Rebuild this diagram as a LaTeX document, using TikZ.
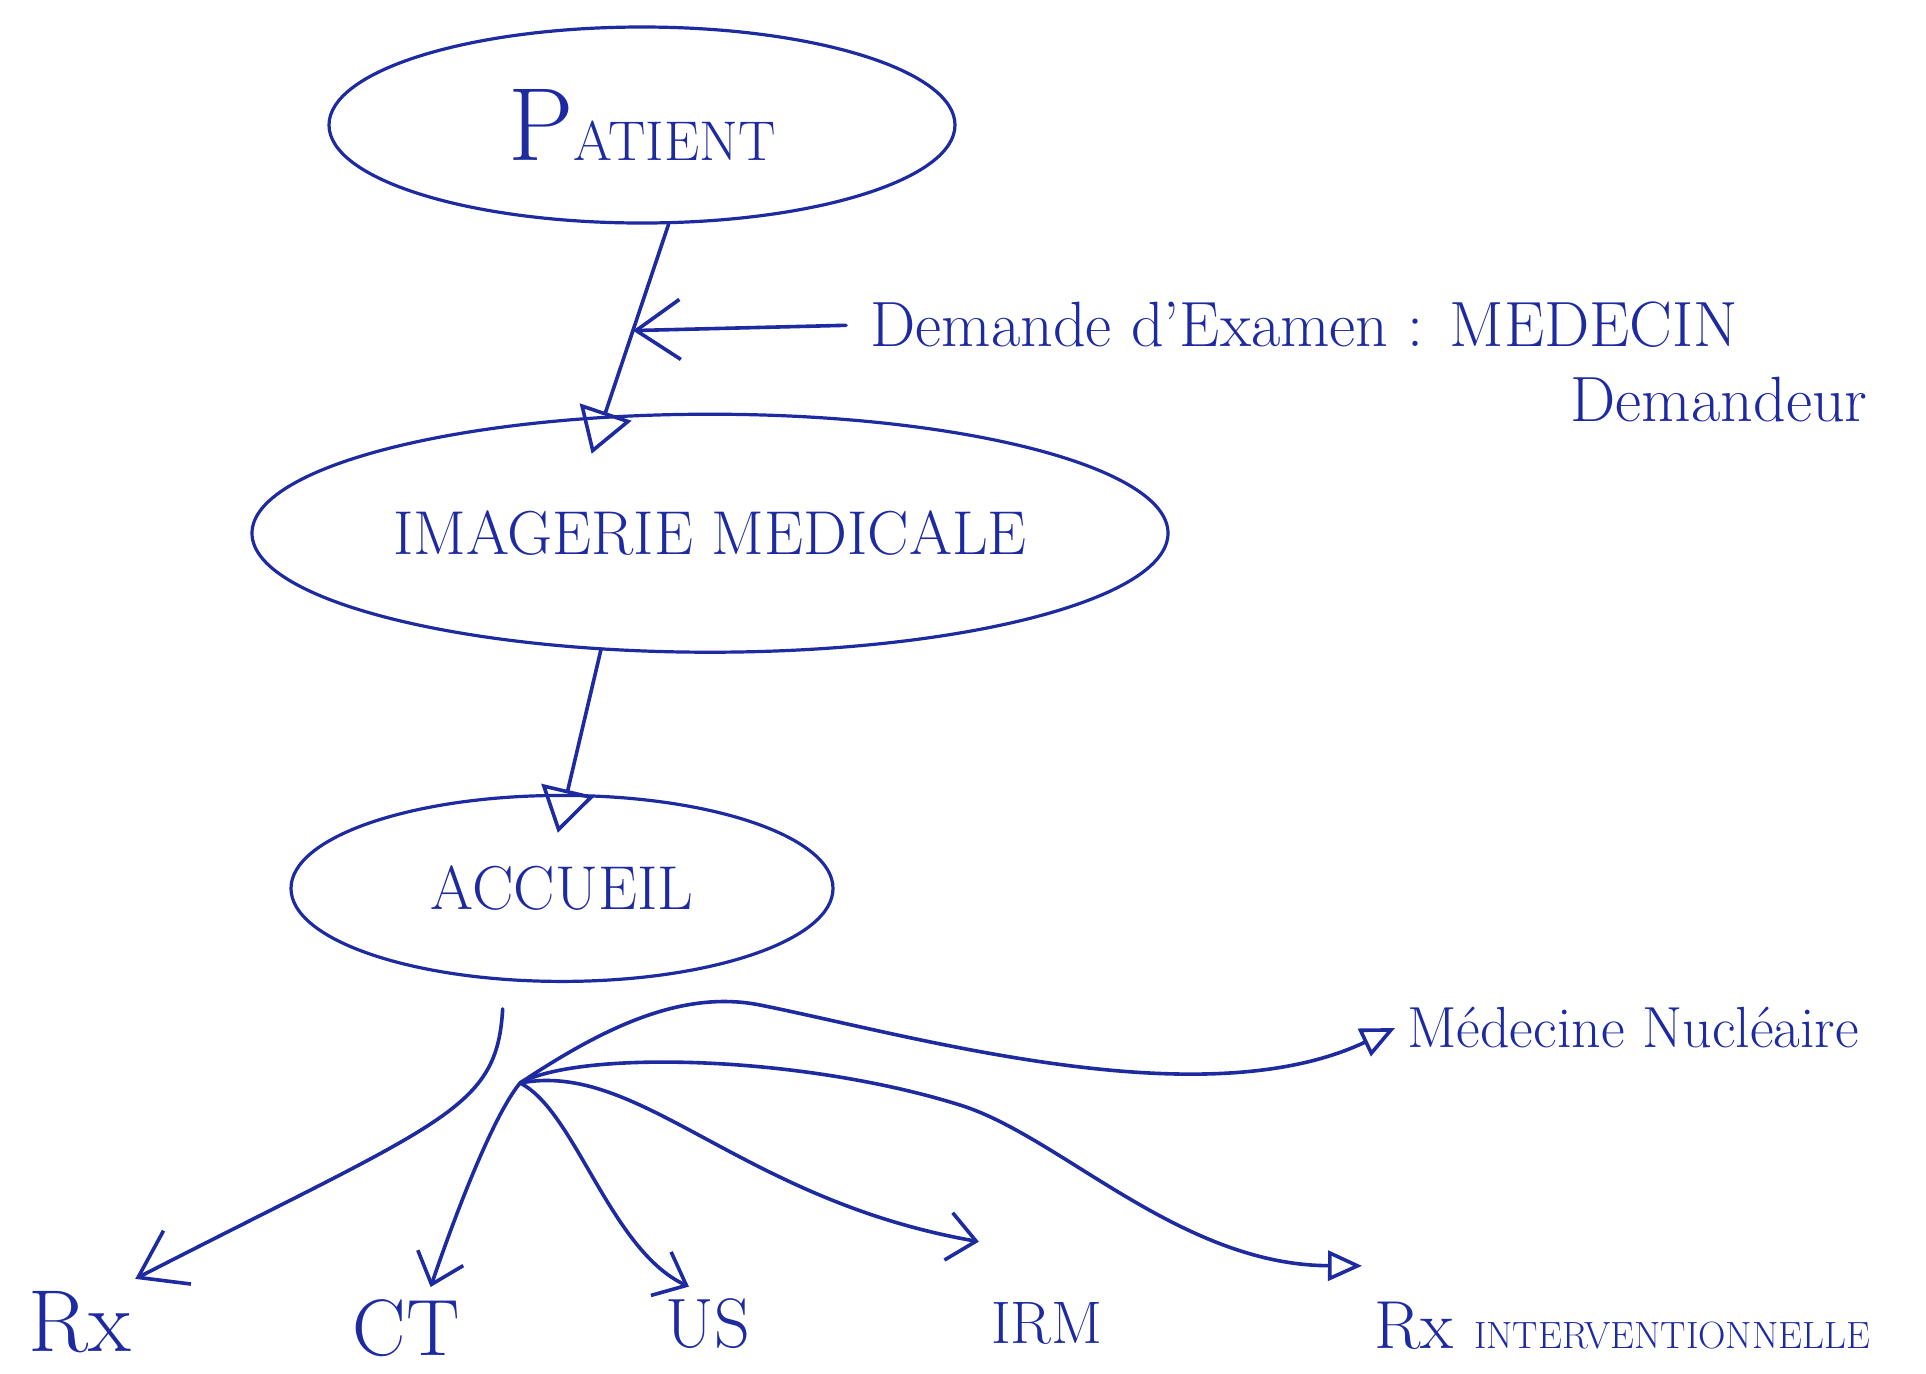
\documentclass[tikz,border=0pt]{standalone}
\usepackage{fontspec}
\usepackage{tikz}
\usetikzlibrary{arrows.meta,positioning,calc,shapes.geometric}
\definecolor{ink}{RGB}{30,42,160}
\tikzset{
  bubble/.style={ellipse, draw=ink, line width=1.6pt, inner sep=0pt, text=ink},
  lbl/.style={text=ink, inner sep=6pt},
  line/.style={draw=ink, line width=1.8pt, line cap=round, line join=round},
  bigtri/.style={line, -{Triangle[open, length=22pt, width=27pt]}, shorten >=-20pt},
  tri/.style={line, -{Triangle[open, length=17pt, width=15pt]}},
  barb/.style={line, -{Straight Barb[length=14pt, width=24pt]}},
  bigbarb/.style={line, -{Straight Barb[length=22pt, width=30pt]}}
}

\begin{document}
\begin{tikzpicture}[x=0.5pt, y=-0.5pt]
  \useasboundingbox (0,0) rectangle (1926,1373);

  \node[bubble, minimum width=313pt, minimum height=98pt] (pat) at (642,125)
    {{\fontsize{52}{52}\selectfont P}{\fontsize{28}{28}\selectfont ATIENT}};
  \node[bubble, minimum width=458pt, minimum height=119pt, below=94pt of pat, xshift=34pt,
    font=\fontsize{31}{34}\selectfont] (img) {IMAGERIE MEDICALE};
  \node[bubble, minimum width=271pt, minimum height=93pt, below=70pt of img, xshift=-74pt,
    font=\fontsize{31}{34}\selectfont] (acc) {ACCUEIL};

  \node[lbl, anchor=west, font=\fontsize{32}{35}\selectfont] (dem) at (858,325) {Demande d'Examen : MEDECIN};
  \node[lbl, font=\fontsize{32}{35}\selectfont] (dmd) at (1719,400) {Demandeur};
  \node[lbl, anchor=west, font=\fontsize{29}{32}\selectfont] (mn) at (1395,1028) {Médecine Nucléaire};
  \node[lbl, font=\fontsize{44}{48}\selectfont] (rx) at (80,1322) {Rx};
  \node[lbl, font=\fontsize{40}{44}\selectfont] (ct) at (406,1328) {CT};
  \node[lbl, font=\fontsize{35}{40}\selectfont] (us) at (708,1324) {US};
  \node[lbl, font=\fontsize{30}{34}\selectfont] (irm) at (1047,1323) {IRM};
  \node[lbl, anchor=west] (rxi) at (1362,1326)
    {{\fontsize{34}{38}\selectfont Rx\ }{\fontsize{19}{24}\selectfont INTERVENTIONNELLE}};

  \draw[bigtri] (pat.-75) -- (img.132);
  \coordinate (dm) at ($(pat.-75)!0.555!(img.132)$);
  \draw[bigbarb, shorten <=6pt] (dem.west) -- (dm);
  \draw[bigtri] (img.-133) -- (acc.87);

  % branches below the accueil
  \coordinate (hub) at (520,1083);
  \draw[bigbarb, shorten <=14pt] (acc.-122) .. controls (497,1110) and (445,1120) .. (rx.38);
  \draw[barb] (hub) .. controls (490,1120) and (450,1230) .. (ct.59);
  \draw[barb] (hub) .. controls (575,1110) and (610,1250) .. (us.117);
  \draw[barb] (hub) .. controls (640,1060) and (740,1200) .. ([yshift=24pt]irm.north west);
  \draw[tri] (hub) .. controls (580,1050) and (800,1055) .. (960,1105)
    .. controls (1060,1136) and (1180,1265) .. ([yshift=12pt]rxi.north west);
  \draw[tri] (hub) .. controls (600,1030) and (680,989) .. (760,1005)
    .. controls (910,1035) and (1200,1120) .. (mn.west);
\end{tikzpicture}
\end{document}
